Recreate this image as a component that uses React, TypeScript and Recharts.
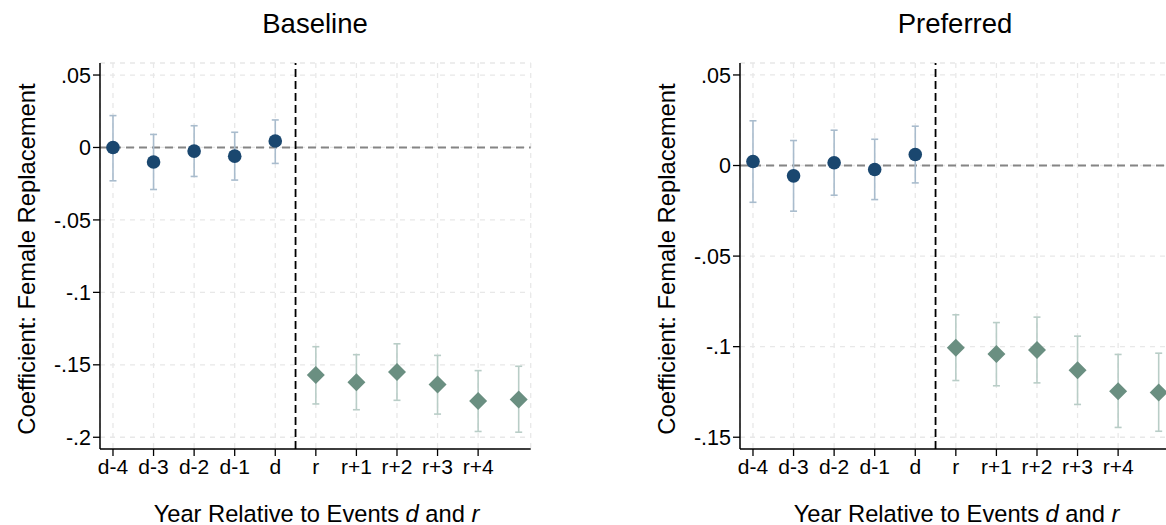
import React from 'react';
import { ComposedChart, Scatter, XAxis, YAxis, CartesianGrid, ReferenceLine, ErrorBar } from 'recharts';

// ---- Data ----
const xTickLabels = ['d-4', 'd-3', 'd-2', 'd-1', 'd', 'r', 'r+1', 'r+2', 'r+3', 'r+4'];
const xTickPositions = [0, 1, 2, 3, 4, 5, 6, 7, 8, 9];
const dPositions = [0, 1, 2, 3, 4];
const rPositions = [5, 6, 7, 8, 9, 10];
const eventSplit = 4.5;

const baselineD = [0.0, -0.010, -0.0025, -0.006, 0.0045];
const baselineDLo = [-0.023, -0.029, -0.020, -0.0225, -0.011];
const baselineDHi = [0.022, 0.009, 0.015, 0.0105, 0.019];
const baselineR = [-0.157, -0.162, -0.155, -0.1635, -0.175, -0.174];
const baselineRLo = [-0.177, -0.181, -0.1745, -0.184, -0.196, -0.1965];
const baselineRHi = [-0.1375, -0.143, -0.1355, -0.1435, -0.154, -0.151];
const baselineYTicks = [-0.2, -0.15, -0.1, -0.05, 0, 0.05];
const baselineYDomain = [-0.2081, 0.0583];

const preferredD = [0.0022, -0.0057, 0.0015, -0.0022, 0.0061];
const preferredDLo = [-0.0203, -0.0252, -0.0164, -0.0188, -0.0096];
const preferredDHi = [0.0247, 0.0138, 0.0195, 0.0145, 0.0217];
const preferredR = [-0.1006, -0.1041, -0.1019, -0.113, -0.1246, -0.1253];
const preferredRLo = [-0.1187, -0.1216, -0.120, -0.1319, -0.1446, -0.1467];
const preferredRHi = [-0.0824, -0.0867, -0.0837, -0.0942, -0.1043, -0.1036];
const preferredYTicks = [-0.15, -0.1, -0.05, 0, 0.05];
const preferredYDomain = [-0.1565, 0.0566];

const xDomain = [-0.32, 10.296];

// ---- Styles ----
const FONT = '"Liberation Sans", Arial, Helvetica, sans-serif';
const NAVY = '#1a476f';
const SEA = '#6a8f81';
const NAVY_CI = '#a9bccd';
const SEA_CI = '#b9cdc7';

const build = (xs: number[], ys: number[], lo: number[], hi: number[]) =>
  xs.map((x, i) => ({ x, y: ys[i], err: [ys[i] - lo[i], hi[i] - ys[i]] }));

const fmtY = (v: number) => (v === 0 ? '0' : String(v).replace('0.', '.'));

const Dot = (p: any) => <circle cx={p.cx} cy={p.cy} r={6.8} fill={NAVY} />;
const Diamond = (p: any) => {
  const s = 9;
  return (
    <polygon
      points={`${p.cx},${p.cy - s} ${p.cx + s},${p.cy} ${p.cx},${p.cy + s} ${p.cx - s},${p.cy}`}
      fill={SEA}
    />
  );
};

type PanelProps = {
  left: number;
  width: number;
  title: string;
  dData: any[];
  rData: any[];
  yDomain: number[];
  yTicks: number[];
};

function Panel({ left, width, title, dData, rData, yDomain, yTicks }: PanelProps) {
  const plotRight = 530.7;
  return (
    <div style={{ position: 'absolute', left, top: 0, width, height: 525 }}>
      <ComposedChart
        width={width}
        height={525}
        margin={{ top: 63, right: width - plotRight, bottom: 46, left: 0 }}
        style={{ fontFamily: FONT }}
      >
        <CartesianGrid stroke="#e8e8e8" strokeDasharray="5 5" strokeWidth={1.3} />
        <XAxis
          type="number"
          dataKey="x"
          domain={xDomain}
          allowDataOverflow
          ticks={xTickPositions}
          tickFormatter={(v: number) => xTickLabels[v] ?? ''}
          interval={0}
          height={30}
          tickSize={7}
          tickMargin={3}
          axisLine={{ stroke: '#000', strokeWidth: 1.5 }}
          tickLine={{ stroke: '#000', strokeWidth: 1.3 }}
          tick={{ fill: '#000', fontSize: 21, fontFamily: FONT }}
        />
        <YAxis
          type="number"
          dataKey="y"
          domain={yDomain}
          allowDataOverflow
          ticks={yTicks}
          tickFormatter={fmtY}
          interval={0}
          width={100}
          tickSize={7}
          tickMargin={2}
          axisLine={{ stroke: '#000', strokeWidth: 1.5 }}
          tickLine={{ stroke: '#000', strokeWidth: 1.3 }}
          tick={{ fill: '#000', fontSize: 21.5, fontFamily: FONT }}
        />
        <ReferenceLine y={0} stroke="#858585" strokeWidth={2} strokeDasharray="8 5" />
        <ReferenceLine x={eventSplit} stroke="#000" strokeWidth={1.8} strokeDasharray="8 4" />
        <Scatter data={dData} shape={Dot} isAnimationActive={false}>
          <ErrorBar dataKey="err" direction="y" width={3.5} stroke={NAVY_CI} strokeWidth={1.6} isAnimationActive={false} />
        </Scatter>
        <Scatter data={rData} shape={Diamond} isAnimationActive={false}>
          <ErrorBar dataKey="err" direction="y" width={3.5} stroke={SEA_CI} strokeWidth={1.6} isAnimationActive={false} />
        </Scatter>
      </ComposedChart>
      <svg
        width={width}
        height={525}
        style={{ position: 'absolute', left: 0, top: 0, pointerEvents: 'none', fontFamily: FONT }}
      >
        <text x={315} y={33} textAnchor="middle" fontSize={27.5} fill="#000">
          {title}
        </text>
        <text transform="translate(34.5,259) rotate(-90)" textAnchor="middle" fontSize={23.8} fill="#000">
          Coefficient: Female Replacement
        </text>
        <text x={316.5} y={521.5} textAnchor="middle" fontSize={23.7} fill="#000">
          Year Relative to Events <tspan fontStyle="italic">d</tspan> and <tspan fontStyle="italic">r</tspan>
        </text>
      </svg>
    </div>
  );
}

export default function App() {
  return (
    <div
      style={{
        position: 'absolute',
        left: 0,
        top: 0,
        width: 1166,
        height: 525,
        overflow: 'hidden',
        background: '#fff',
        fontFamily: FONT,
      }}
    >
      <Panel
        left={0}
        width={545}
        title="Baseline"
        dData={build(dPositions, baselineD, baselineDLo, baselineDHi)}
        rData={build(rPositions, baselineR, baselineRLo, baselineRHi)}
        yDomain={baselineYDomain}
        yTicks={baselineYTicks}
      />
      <Panel
        left={640}
        width={540}
        title="Preferred"
        dData={build(dPositions, preferredD, preferredDLo, preferredDHi)}
        rData={build(rPositions, preferredR, preferredRLo, preferredRHi)}
        yDomain={preferredYDomain}
        yTicks={preferredYTicks}
      />
    </div>
  );
}
